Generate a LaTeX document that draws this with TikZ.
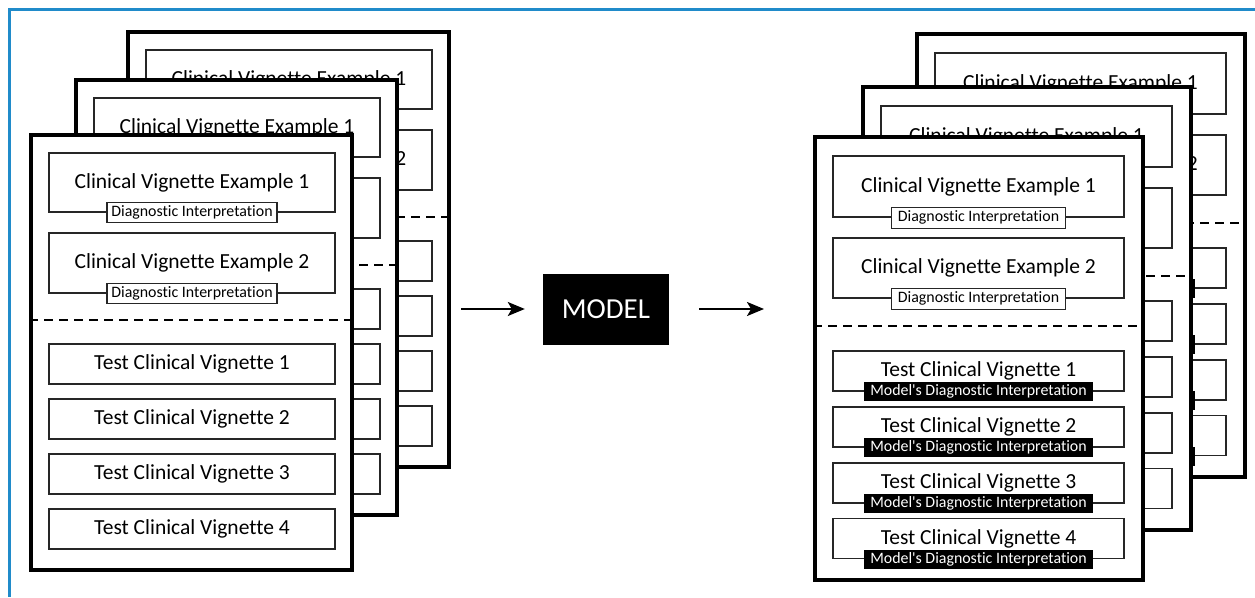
\documentclass[tikz,border=0pt]{standalone}
\usepackage{fontspec}
\newfontfamily\vigfont[Ligatures=NoCommon]{Carlito}
\usetikzlibrary{arrows.meta}
\definecolor{frameBlue}{RGB}{32,139,202}
\tikzstyle{pageSheet}=[draw, line width=3.5pt, fill=white, inner sep=0pt]
\tikzstyle{caseBox}=[draw=black!85, line width=1.4pt, inner sep=0pt, font=\vigfont\fontsize{21.5}{24}\selectfont]
\tikzstyle{interpTag}=[draw=black!85, fill=white, line width=1.3pt, inner sep=0pt, font=\vigfont\fontsize{15.9}{18}\selectfont]
\tikzstyle{modelTag}=[fill=black, text=white, inner sep=0pt, font=\vigfont\fontsize{15.9}{18}\selectfont]
\tikzstyle{splitLine}=[line width=2pt, dash pattern=on 9pt off 6pt]
\tikzstyle{flowArrow}=[-{Stealth[length=17pt,width=14pt,inset=4pt]}, line width=2pt]

\begin{document}
\begin{tikzpicture}[x=1pt,y=-1pt]
	\useasboundingbox (0,0) rectangle (1255,597);
	\draw[frameBlue, line width=3pt] (1255,9) -| (9,597);

	% input sheets
	\foreach \dx/\dy/\p in {97/-103/c, 45/-55/b, 0/0/a} {
		\begin{scope}[shift={(\dx,\dy)}]
			\node[pageSheet, minimum width=321pt, minimum height=435pt] (L\p-page) at (191.5,352.5) {};
			\node[caseBox, minimum width=286pt, minimum height=59pt] (L\p-ex1) at (192,182.5) {Clinical Vignette Example 1};
			\node[interpTag, minimum width=170pt, minimum height=20pt] (L\p-tag1) at (L\p-ex1.south) {Diagnostic Interpretation};
			\node[caseBox, minimum width=286pt, minimum height=60pt] (L\p-ex2) at (192,263) {Clinical Vignette Example 2};
			\node[interpTag, minimum width=170pt, minimum height=20pt] (L\p-tag2) at (L\p-ex2.south) {Diagnostic Interpretation};
			\draw[splitLine] (L\p-page.west |- 0,320) -- (L\p-page.east |- 0,320);
			\foreach \t/\ty in {1/364, 2/419, 3/474, 4/529} {
				\node[caseBox, minimum width=286pt, minimum height=40pt] (L\p-t\t) at (192,\ty) {Test Clinical Vignette \t};
			}
		\end{scope}
	}

	\node[fill=black, text=white, inner sep=0pt, minimum width=126pt, minimum height=71pt, font=\vigfont\fontsize{29}{32}\selectfont] (model) at (606,309) {MODEL};

	\coordinate (feedTail) at (461,309);
	\coordinate (outTip) at (764,309);
	\draw[flowArrow, shorten >=18pt] (feedTail) -- (model);
	\draw[flowArrow, shorten <=30pt] (model) -- (outTip);

	% output sheets
	\foreach \dx/\dy/\p in {102/-103/c, 48/-50/b, 0/0/a} {
		\begin{scope}[shift={(\dx,\dy)}]
			\node[pageSheet, minimum width=328pt, minimum height=443pt] (R\p-page) at (979,358.5) {};
			\node[caseBox, minimum width=291pt, minimum height=61pt] (R\p-ex1) at (978.5,186.5) {Clinical Vignette Example 1};
			\node[interpTag, minimum width=174pt, minimum height=21pt] (R\p-tag1) at (R\p-ex1.south) {Diagnostic Interpretation};
			\node[caseBox, minimum width=291pt, minimum height=60pt] (R\p-ex2) at (978.5,268) {Clinical Vignette Example 2};
			\node[interpTag, minimum width=174pt, minimum height=21pt] (R\p-tag2) at (R\p-ex2.south) {Diagnostic Interpretation};
			\draw[splitLine] (R\p-page.west |- 0,326) -- (R\p-page.east |- 0,326);
			\foreach \t/\ty in {1/371, 2/427, 3/483, 4/538.5} {
				\node[caseBox, minimum width=291pt, minimum height=40pt] (R\p-t\t) at (978.5,\ty) {Test Clinical Vignette \t};
				\node[modelTag, minimum width=229pt, minimum height=19pt] (R\p-ans\t) at (R\p-t\t.south) {Model's Diagnostic Interpretation};
			}
		\end{scope}
	}
\end{tikzpicture}
\end{document}
